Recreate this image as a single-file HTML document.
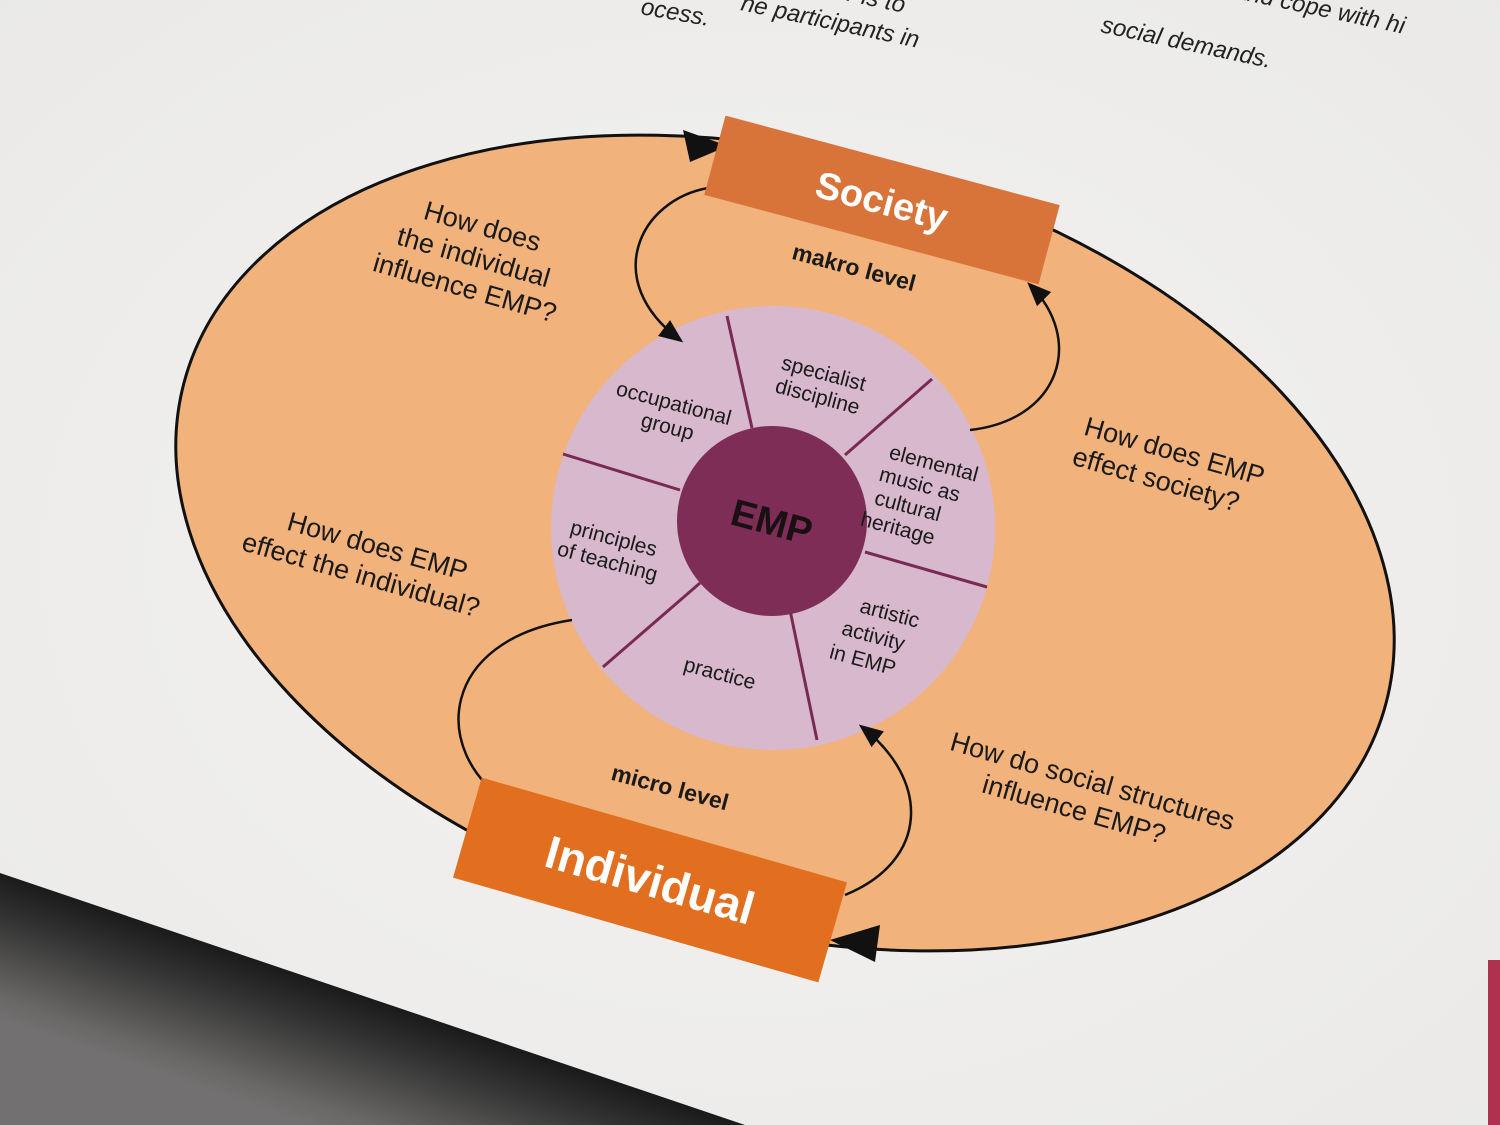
<!DOCTYPE html>
<html><head><meta charset="utf-8"><style>
html,body{margin:0;padding:0;width:1500px;height:1125px;overflow:hidden;background:#efeeec}
svg{display:block}
text{font-family:"Liberation Sans",sans-serif}
</style></head><body>
<svg width="1500" height="1125" viewBox="0 0 1500 1125" xmlns="http://www.w3.org/2000/svg">
<defs>
<radialGradient id="paper" cx="0.5" cy="0.5" r="0.8">
<stop offset="0" stop-color="#f4f3f1"/><stop offset="1" stop-color="#e9e8e6"/>
</radialGradient>
<linearGradient id="table" gradientUnits="userSpaceOnUse" x1="370" y1="998" x2="325" y2="1130">
<stop offset="0" stop-color="#1a1a1a"/><stop offset="0.3" stop-color="#333"/><stop offset="0.85" stop-color="#6a6866"/><stop offset="1" stop-color="#727070"/>
</linearGradient>
<marker id="ah" markerWidth="24" markerHeight="20" refX="20" refY="10" orient="auto" markerUnits="userSpaceOnUse" viewBox="0 0 24 20">
<path d="M0,0 L24,10 L0,20 Z" fill="#111"/>
</marker>
</defs>
<rect width="1500" height="1125" fill="url(#paper)"/>
<g font-family="Liberation Serif" font-style="italic" font-size="24" fill="#222">
<text x="640" y="14" transform="rotate(10 640 14)">ocess.</text>
<text x="740" y="10" transform="rotate(12 740 10)">ne participants in</text>
<text x="820" y="-5" transform="rotate(12 820 -5)">der is to</text>
<text x="1100" y="32" transform="rotate(12 1100 32)">social demands.</text>
<text x="1150" y="-20" transform="rotate(12 1150 -20)">socially and cope with hi</text>
</g>
<polygon points="0,873 745,1125 0,1125" fill="url(#table)"/>
<rect x="1488" y="960" width="12" height="165" fill="#b0304f"/>
<ellipse cx="785" cy="543" rx="622" ry="388" transform="rotate(15 785 543)" fill="#f1b27c" stroke="#111" stroke-width="3"/>
<path d="M683,130 L728,146 L690,162 Z" fill="#111"/>
<path d="M880,925 L830,940 L875,962 Z" fill="#111"/>
<circle cx="773" cy="528" r="222" fill="#d7b8cd"/>
<g stroke="#7a2a52" stroke-width="3">
<line x1="727" y1="316" x2="752" y2="428"/>
<line x1="932" y1="379" x2="845" y2="455"/>
<line x1="987" y1="587" x2="865" y2="552"/>
<line x1="790" y1="610" x2="817" y2="740"/>
<line x1="700" y1="583" x2="603" y2="667"/>
<line x1="563" y1="454" x2="680" y2="490"/>
</g>
<circle cx="772" cy="521" r="95" fill="#7e2d57"/>
<text x="772" y="535" font-size="38" font-weight="bold" fill="#1a1014" text-anchor="middle" transform="rotate(15 772 521)">EMP</text>
<g font-size="21" fill="#1a1a1a" text-anchor="middle">
<text transform="translate(672,410) rotate(15)"><tspan x="0" y="0">occupational</tspan><tspan x="0" y="24">group</tspan></text>
<text transform="translate(822,380) rotate(15)"><tspan x="0" y="0">specialist</tspan><tspan x="0" y="24">discipline</tspan></text>
<text transform="translate(932,470) rotate(15)"><tspan x="0" y="0">elemental</tspan><tspan x="-8" y="24">music as</tspan><tspan x="-14" y="48">cultural</tspan><tspan x="-18" y="72">heritage</tspan></text>
<text transform="translate(612,545) rotate(15)"><tspan x="0" y="0">principles</tspan><tspan x="0" y="24">of teaching</tspan></text>
<text transform="translate(718,680) rotate(15)">practice</text>
<text transform="translate(888,620) rotate(15)"><tspan x="0" y="0">artistic</tspan><tspan x="-10" y="26">activity</tspan><tspan x="-14" y="52">in EMP</tspan></text>
</g>
<g fill="none" stroke="#111" stroke-width="2.5" marker-end="url(#ah)">
<path d="M708,188 C640,200 600,280 680,340"/>
<path d="M970,430 C1060,420 1085,340 1030,285"/>
<path d="M572,620 C440,640 430,750 507,802"/>
<path d="M845,895 C930,860 930,780 862,727"/>
</g>
<g transform="translate(882,200) rotate(15)">
<rect x="-173" y="-41" width="346" height="82" fill="#d8733a"/>
<text x="0" y="14" font-size="38" font-weight="bold" fill="#fff" text-anchor="middle">Society</text>
</g>
<g transform="translate(650,880) rotate(16)">
<rect x="-190" y="-52" width="380" height="104" fill="#e26f1f"/>
<text x="0" y="16" font-size="46" font-weight="bold" fill="#fff" text-anchor="middle">Individual</text>
</g>
<g font-size="23" font-weight="bold" fill="#1a1a1a" text-anchor="middle">
<text transform="translate(852,275) rotate(15)">makro level</text>
<text transform="translate(668,795) rotate(15)">micro level</text>
</g>
<g font-size="27" fill="#1a1a1a" text-anchor="middle">
<text transform="translate(480,235) rotate(16)"><tspan x="0" y="0">How does</tspan><tspan x="0" y="32">the individual</tspan><tspan x="0" y="64">influence EMP?</tspan></text>
<text transform="translate(1172,460) rotate(16)"><tspan x="0" y="0">How does EMP</tspan><tspan x="-10" y="32">effect society?</tspan></text>
<text transform="translate(375,555) rotate(16)"><tspan x="0" y="0">How does EMP</tspan><tspan x="-8" y="32">effect the individual?</tspan></text>
<text transform="translate(1090,790) rotate(16)"><tspan x="0" y="0">How do social structures</tspan><tspan x="-10" y="32">influence EMP?</tspan></text>
</g>
</svg>
</body></html>
